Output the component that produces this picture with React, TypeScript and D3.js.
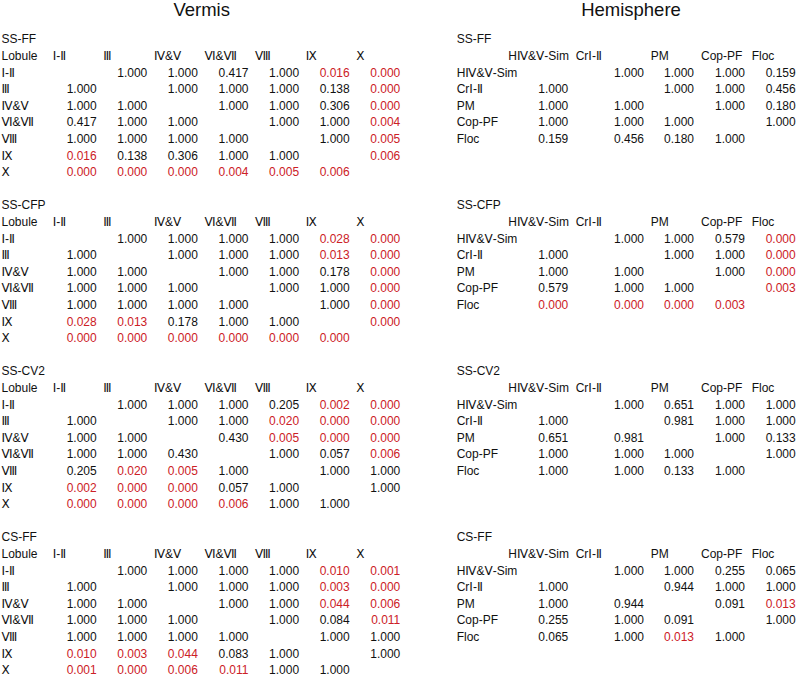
import React from "react";
import * as d3 from "d3";

const vermisLobules = ["Ⅰ-Ⅱ", "Ⅲ", "Ⅳ&Ⅴ", "Ⅵ&Ⅶ", "Ⅷ", "Ⅸ", "Ⅹ"];
const hemiRegions = ["HⅣ&Ⅴ-Sim", "CrⅠ-Ⅱ", "PM", "Cop-PF", "Floc"];
const sectionNames = ["SS-FF", "SS-CFP", "SS-CV2", "CS-FF"];

const vermisSSFF = [
  [null, 1.0, 1.0, 0.417, 1.0, 0.016, 0.0],
  [1.0, null, 1.0, 1.0, 1.0, 0.138, 0.0],
  [1.0, 1.0, null, 1.0, 1.0, 0.306, 0.0],
  [0.417, 1.0, 1.0, null, 1.0, 1.0, 0.004],
  [1.0, 1.0, 1.0, 1.0, null, 1.0, 0.005],
  [0.016, 0.138, 0.306, 1.0, 1.0, null, 0.006],
  [0.0, 0.0, 0.0, 0.004, 0.005, 0.006, null],
];
const vermisSSCFP = [
  [null, 1.0, 1.0, 1.0, 1.0, 0.028, 0.0],
  [1.0, null, 1.0, 1.0, 1.0, 0.013, 0.0],
  [1.0, 1.0, null, 1.0, 1.0, 0.178, 0.0],
  [1.0, 1.0, 1.0, null, 1.0, 1.0, 0.0],
  [1.0, 1.0, 1.0, 1.0, null, 1.0, 0.0],
  [0.028, 0.013, 0.178, 1.0, 1.0, null, 0.0],
  [0.0, 0.0, 0.0, 0.0, 0.0, 0.0, null],
];
const vermisSSCV2 = [
  [null, 1.0, 1.0, 1.0, 0.205, 0.002, 0.0],
  [1.0, null, 1.0, 1.0, 0.02, 0.0, 0.0],
  [1.0, 1.0, null, 0.43, 0.005, 0.0, 0.0],
  [1.0, 1.0, 0.43, null, 1.0, 0.057, 0.006],
  [0.205, 0.02, 0.005, 1.0, null, 1.0, 1.0],
  [0.002, 0.0, 0.0, 0.057, 1.0, null, 1.0],
  [0.0, 0.0, 0.0, 0.006, 1.0, 1.0, null],
];
const vermisCSFF = [
  [null, 1.0, 1.0, 1.0, 1.0, 0.01, 0.001],
  [1.0, null, 1.0, 1.0, 1.0, 0.003, 0.0],
  [1.0, 1.0, null, 1.0, 1.0, 0.044, 0.006],
  [1.0, 1.0, 1.0, null, 1.0, 0.084, 0.011],
  [1.0, 1.0, 1.0, 1.0, null, 1.0, 1.0],
  [0.01, 0.003, 0.044, 0.083, 1.0, null, 1.0],
  [0.001, 0.0, 0.006, 0.011, 1.0, 1.0, null],
];

const hemiSSFF = [
  [null, 1.0, 1.0, 1.0, 0.159],
  [1.0, null, 1.0, 1.0, 0.456],
  [1.0, 1.0, null, 1.0, 0.18],
  [1.0, 1.0, 1.0, null, 1.0],
  [0.159, 0.456, 0.18, 1.0, null],
];
const hemiSSCFP = [
  [null, 1.0, 1.0, 0.579, 0.0],
  [1.0, null, 1.0, 1.0, 0.0],
  [1.0, 1.0, null, 1.0, 0.0],
  [0.579, 1.0, 1.0, null, 0.003],
  [0.0, 0.0, 0.0, 0.003, null],
];
const hemiSSCV2 = [
  [null, 1.0, 0.651, 1.0, 1.0],
  [1.0, null, 0.981, 1.0, 1.0],
  [0.651, 0.981, null, 1.0, 0.133],
  [1.0, 1.0, 1.0, null, 1.0],
  [1.0, 1.0, 0.133, 1.0, null],
];
const hemiCSFF = [
  [null, 1.0, 1.0, 0.255, 0.065],
  [1.0, null, 0.944, 1.0, 1.0],
  [1.0, 0.944, null, 0.091, 0.013],
  [0.255, 1.0, 0.091, null, 1.0],
  [0.065, 1.0, 0.013, 1.0, null],
];

const vermisMatrices = [vermisSSFF, vermisSSCFP, vermisSSCV2, vermisCSFF];
const hemiMatrices = [hemiSSFF, hemiSSCFP, hemiSSCV2, hemiCSFF];

const W = 797;
const H = 676;
const FONT = "'Liberation Sans', Arial, 'DejaVu Sans', sans-serif";
const RED = "#cc2026";
const BLACK = "#111";
const fmt = d3.format(".3f");
const color = (v: number) => (v < 0.05 ? RED : BLACK);

const LINE = 16.6;
const sectionY = d3.scaleLinear().domain([0, 1]).range([43.3, 43.3 + 10 * LINE]);
const lineY = (s: number, i: number) => sectionY(s) + i * LINE;

const vermisX = d3.scalePoint<string>().domain(vermisLobules).range([96.7, 400.3]);
const hemiX = d3.scaleOrdinal<string, number>().domain(hemiRegions).range([568.3, 644, 694, 745, 795.7]);
const hemiHeadX = d3.scaleOrdinal<string, number>().domain(hemiRegions).range([508.3, 575.7, 650.7, 701, 751.7]);

export default function App() {
  const ts = { fontFamily: FONT, fontSize: 12 } as React.CSSProperties;
  return (
    <svg
      width={W}
      height={H}
      style={{ position: "absolute", left: 0, top: 0, background: "#fff" }}
    >
      <rect width={W} height={H} fill="#fff" />
      <text x={201.7} y={15.8} textAnchor="middle" style={{ fontFamily: FONT, fontSize: 18.5 }} fill={BLACK}>
        Vermis
      </text>
      <text x={631} y={15.8} textAnchor="middle" style={{ fontFamily: FONT, fontSize: 18.5 }} fill={BLACK}>
        Hemisphere
      </text>
      {sectionNames.map((name, s) => (
        <g key={"v" + name} style={ts}>
          <text x={1.5} y={lineY(s, 0)} fill={BLACK}>{name}</text>
          <text x={1.5} y={lineY(s, 1)} fill={BLACK}>Lobule</text>
          {vermisLobules.map((l) => (
            <text key={"h" + l} x={(vermisX(l) as number) - 44} y={lineY(s, 1)} fill={BLACK}>{l}</text>
          ))}
          {vermisLobules.map((rl, r) => (
            <g key={"r" + rl}>
              <text x={1.5} y={lineY(s, 2 + r)} fill={BLACK}>{rl}</text>
              {vermisMatrices[s][r].map((v, c) =>
                v === null ? null : (
                  <text
                    key={c}
                    x={vermisX(vermisLobules[c]) as number}
                    y={lineY(s, 2 + r)}
                    textAnchor="end"
                    fill={color(v)}
                  >
                    {fmt(v)}
                  </text>
                )
              )}
            </g>
          ))}
        </g>
      ))}
      {sectionNames.map((name, s) => (
        <g key={"h" + name} style={ts}>
          <text x={456.7} y={lineY(s, 0)} fill={BLACK}>{name}</text>
          {hemiRegions.map((l) => (
            <text key={"h" + l} x={hemiHeadX(l)} y={lineY(s, 1)} fill={BLACK}>{l}</text>
          ))}
          {hemiRegions.map((rl, r) => (
            <g key={"r" + rl}>
              <text x={456.7} y={lineY(s, 2 + r)} fill={BLACK}>{rl}</text>
              {hemiMatrices[s][r].map((v, c) =>
                v === null ? null : (
                  <text
                    key={c}
                    x={hemiX(hemiRegions[c])}
                    y={lineY(s, 2 + r)}
                    textAnchor="end"
                    fill={color(v)}
                  >
                    {fmt(v)}
                  </text>
                )
              )}
            </g>
          ))}
        </g>
      ))}
    </svg>
  );
}
